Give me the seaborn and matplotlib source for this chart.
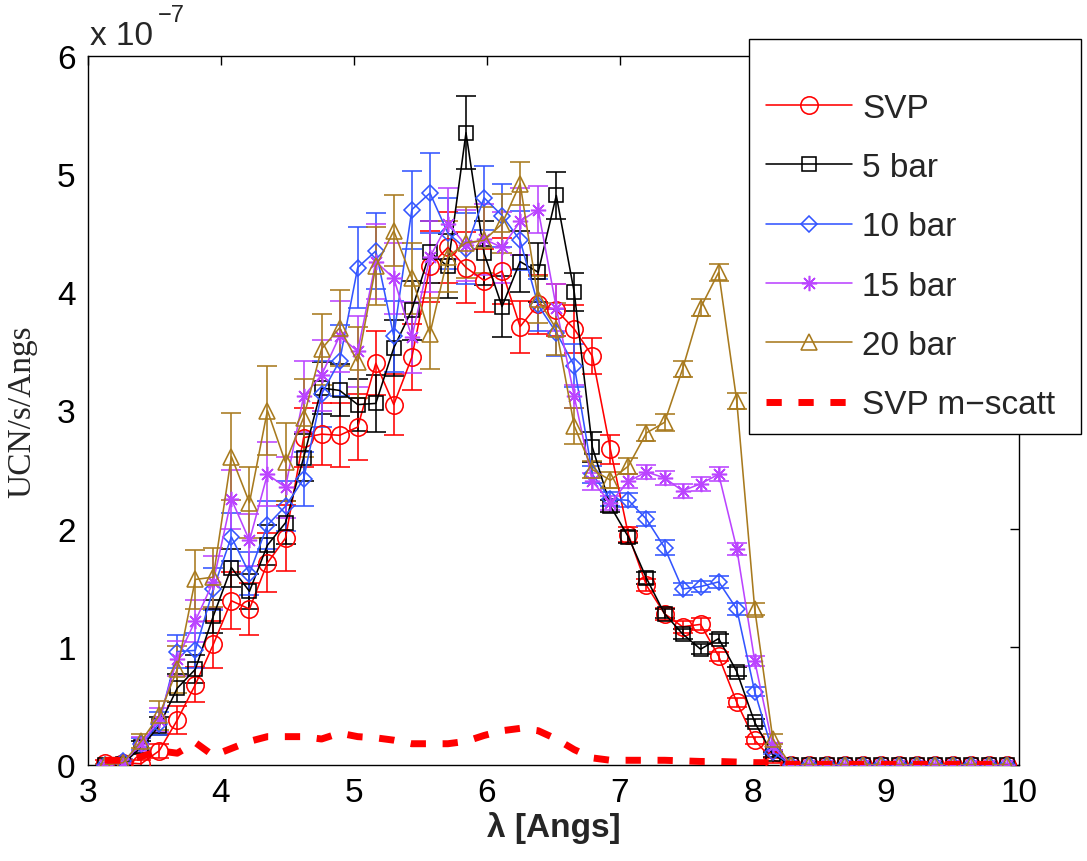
import numpy as np
import pandas as pd
import matplotlib
matplotlib.use("Agg")
import matplotlib.pyplot as plt
from matplotlib.lines import Line2D
from matplotlib.patches import Rectangle
import seaborn as sns

# ---------------- data (values in units of 1e-7 UCN/s/Angs) ----------------
lam = [3.128, 3.264, 3.399, 3.535, 3.671, 3.807, 3.942, 4.078, 4.214, 4.349,
       4.485, 4.621, 4.756, 4.892, 5.028, 5.164, 5.299, 5.435, 5.571, 5.706,
       5.842, 5.978, 6.113, 6.249, 6.385, 6.521, 6.656, 6.792, 6.928, 7.063,
       7.199, 7.335, 7.470, 7.606, 7.742, 7.878, 8.013, 8.149, 8.285, 8.420,
       8.556, 8.692, 8.828, 8.963, 9.099, 9.235, 9.370, 9.506, 9.642, 9.777,
       9.913]

tail0 = [0.0] * 13
tailerr = [0.01] * 13

svp = [0.02, 0.02, 0.01, 0.12, 0.38, 0.68, 1.02, 1.39, 1.32, 1.71,
       1.92, 2.77, 2.80, 2.79, 2.86, 3.40, 3.05, 3.45, 4.22, 4.38,
       4.21, 4.10, 4.18, 3.71, 3.90, 3.85, 3.69, 3.46, 2.67, 1.95,
       1.52, 1.28, 1.17, 1.19, 0.92, 0.53, 0.21, 0.04] + tail0
svp_err = [0.02, 0.02, 0.03, 0.06, 0.12, 0.15, 0.20, 0.24, 0.22, 0.25,
           0.28, 0.25, 0.26, 0.27, 0.28, 0.27, 0.26, 0.28, 0.30, 0.30,
           0.30, 0.27, 0.28, 0.22, 0.25, 0.22, 0.20, 0.15, 0.12, 0.06,
           0.05, 0.05, 0.05, 0.05, 0.04, 0.04, 0.03, 0.02] + tailerr

bar5 = [0.00, 0.01, 0.15, 0.33, 0.65, 0.81, 1.26, 1.67, 1.47, 1.86,
        2.05, 2.60, 3.19, 3.17, 3.05, 3.06, 3.53, 3.85, 4.34, 4.22,
        5.35, 4.33, 3.88, 4.26, 4.17, 4.82, 4.00, 2.69, 2.19, 1.93,
        1.58, 1.28, 1.11, 0.98, 1.07, 0.79, 0.36, 0.09] + tail0
bar5_err = [0.01, 0.02, 0.05, 0.08, 0.12, 0.12, 0.14, 0.16, 0.15, 0.17,
            0.18, 0.20, 0.22, 0.22, 0.22, 0.24, 0.24, 0.25, 0.26, 0.27,
            0.31, 0.27, 0.26, 0.26, 0.25, 0.20, 0.16, 0.13, 0.05, 0.05,
            0.05, 0.04, 0.04, 0.04, 0.04, 0.04, 0.03, 0.02] + tailerr

bar10 = [0.00, 0.03, 0.18, 0.35, 0.96, 0.97, 1.49, 1.93, 1.62, 2.03,
         2.19, 2.42, 3.14, 3.42, 4.21, 4.35, 3.63, 4.70, 4.84, 4.50,
         4.37, 4.80, 4.65, 4.44, 3.89, 3.66, 3.38, 2.46, 2.25, 2.24,
         2.08, 1.84, 1.49, 1.51, 1.55, 1.32, 0.62, 0.11] + tail0
bar10_err = [0.01, 0.02, 0.05, 0.10, 0.14, 0.15, 0.18, 0.20, 0.18, 0.20,
             0.21, 0.23, 0.28, 0.30, 0.34, 0.32, 0.30, 0.33, 0.34, 0.30,
             0.30, 0.27, 0.27, 0.25, 0.22, 0.20, 0.18, 0.07, 0.06, 0.06,
             0.06, 0.06, 0.05, 0.05, 0.05, 0.05, 0.04, 0.02] + tailerr

bar15 = [0.00, 0.02, 0.18, 0.38, 0.90, 1.22, 1.55, 2.25, 1.90, 2.46,
         2.35, 3.12, 3.30, 3.63, 3.50, 4.26, 4.12, 3.62, 4.30, 4.58,
         4.40, 4.45, 4.38, 4.60, 4.70, 3.87, 3.12, 2.40, 2.22, 2.40,
         2.48, 2.43, 2.32, 2.38, 2.46, 1.83, 0.88, 0.16] + tail0
bar15_err = [0.01, 0.02, 0.06, 0.10, 0.15, 0.18, 0.22, 0.25, 0.22, 0.27,
             0.26, 0.30, 0.30, 0.30, 0.30, 0.32, 0.30, 0.30, 0.30, 0.30,
             0.30, 0.30, 0.30, 0.28, 0.20, 0.20, 0.10, 0.07, 0.06, 0.06,
             0.06, 0.06, 0.06, 0.06, 0.06, 0.05, 0.04, 0.03] + tailerr

bar20 = [0.00, 0.02, 0.20, 0.42, 0.81, 1.57, 1.59, 2.61, 2.22, 3.00,
         2.56, 2.94, 3.52, 3.70, 3.41, 4.22, 4.52, 4.12, 3.65, 4.30,
         4.42, 4.44, 4.58, 4.92, 3.94, 3.69, 2.87, 2.50, 2.41, 2.53,
         2.81, 2.90, 3.35, 3.87, 4.17, 3.08, 1.32, 0.22] + tail0
bar20_err = [0.01, 0.02, 0.06, 0.12, 0.20, 0.25, 0.25, 0.37, 0.30, 0.38,
             0.33, 0.33, 0.30, 0.32, 0.30, 0.33, 0.30, 0.30, 0.30, 0.30,
             0.30, 0.28, 0.25, 0.18, 0.20, 0.22, 0.15, 0.07, 0.07, 0.07,
             0.07, 0.07, 0.07, 0.07, 0.07, 0.07, 0.05, 0.04] + tailerr

mscatt = [0.04, 0.04, 0.07, 0.12, 0.10, 0.19, 0.08, 0.14, 0.20, 0.24,
          0.24, 0.24, 0.22, 0.27, 0.24, 0.23, 0.21, 0.18, 0.18, 0.18,
          0.20, 0.25, 0.29, 0.31, 0.29, 0.22, 0.13, 0.06, 0.04, 0.04,
          0.04, 0.04, 0.035, 0.03, 0.03, 0.025, 0.02, 0.02] + [0.005] * 13

labels = ["SVP", "5 bar", "10 bar", "15 bar", "20 bar", "SVP m\u2212scatt"]
x_ticks = [3, 4, 5, 6, 7, 8, 9, 10]
y_ticks = [0, 1, 2, 3, 4, 5, 6]

# ---------------- styling ----------------
sns.set_theme(style="white")
plt.rcParams["font.family"] = ["Liberation Sans", "DejaVu Sans"]

W, H = 1087, 862
fig = plt.figure(figsize=(W / 100, H / 100), dpi=100)
ax = fig.add_axes([88 / W, 1 - 766 / H, (1019 - 88) / W, (766 - 57) / H])
ax.set_facecolor("white")

colors = ["#ff0000", "#000000", "#3355ff", "#bb44ff", "#a87a1e"]
markers = ["o", "s", "D", (8, 2, 0), "^"]
msizes = [12.5, 9.5, 8.5, 11, 12]
vals = [svp, bar5, bar10, bar15, bar20]
errs = [svp_err, bar5_err, bar10_err, bar15_err, bar20_err]
LW = 1.15

handles = []
for lab, v, e, c, m, ms in zip(labels[:5], vals, errs, colors, markers, msizes):
    ax.errorbar(lam, v, yerr=e, fmt="none", ecolor=c, elinewidth=LW,
                capsize=7, capthick=LW, zorder=2)
    sns.lineplot(x=lam, y=v, ax=ax, color=c, marker=m, markersize=ms,
                 markerfacecolor="none", markeredgecolor=c, markeredgewidth=LW,
                 linewidth=LW, legend=False, zorder=3)
    handles.append(Line2D([], [], color=c, marker=m, markersize=ms,
                          markerfacecolor="none", markeredgecolor=c,
                          markeredgewidth=LW, linewidth=LW))

sns.lineplot(x=lam, y=mscatt, ax=ax, color="#ff0000", linewidth=5,
             linestyle=(0, (2.2, 2.4)), legend=False, zorder=4)
handles.append(Line2D([], [], color="#ff0000", linewidth=5,
                      linestyle=(0, (2.2, 2.4))))

ax.set_xlim(3, 10)
ax.set_ylim(0, 6)
ax.set_xticks(x_ticks)
ax.set_xticklabels([str(t) for t in x_ticks])
ax.set_yticks(y_ticks)
ax.set_yticklabels([str(t) for t in y_ticks])
ax.tick_params(direction="in", length=6.5, width=1, top=True, right=True,
               labelsize=24, pad=9, colors="black")
for s in ax.spines.values():
    s.set_color("black")
    s.set_linewidth(1.0)
ax.grid(False)

ax.set_xlabel("\u03bb [Angs]", fontsize=24, fontweight="bold", labelpad=2)
ax.set_ylabel("UCN/s/Angs", fontsize=24, family=["Liberation Serif"], labelpad=14)

# exponent text
fig.text(90 / W, 1 - 45 / H, "x 10", fontsize=24, ha="left", va="baseline")
fig.text(158 / W, 1 - 22 / H, "\u22127", fontsize=17, ha="left", va="baseline")

# legend box (drawn separately so the padding can match the original)
frame = Rectangle((749 / W, 1 - 435 / H), (1081 - 749) / W, (435 - 40) / H,
                  transform=fig.transFigure, facecolor="white",
                  edgecolor="black", linewidth=1.0, zorder=4)
fig.add_artist(frame)

leg = fig.legend(handles, labels, loc="upper left",
                 bbox_to_anchor=(749 / W, 1 - 77 / H), fontsize=24,
                 frameon=False, handlelength=2.6, handletextpad=0.3,
                 labelspacing=0.85, borderpad=0.5, borderaxespad=0)
leg.set_zorder(5)

fig.savefig("out.png", dpi=100)
